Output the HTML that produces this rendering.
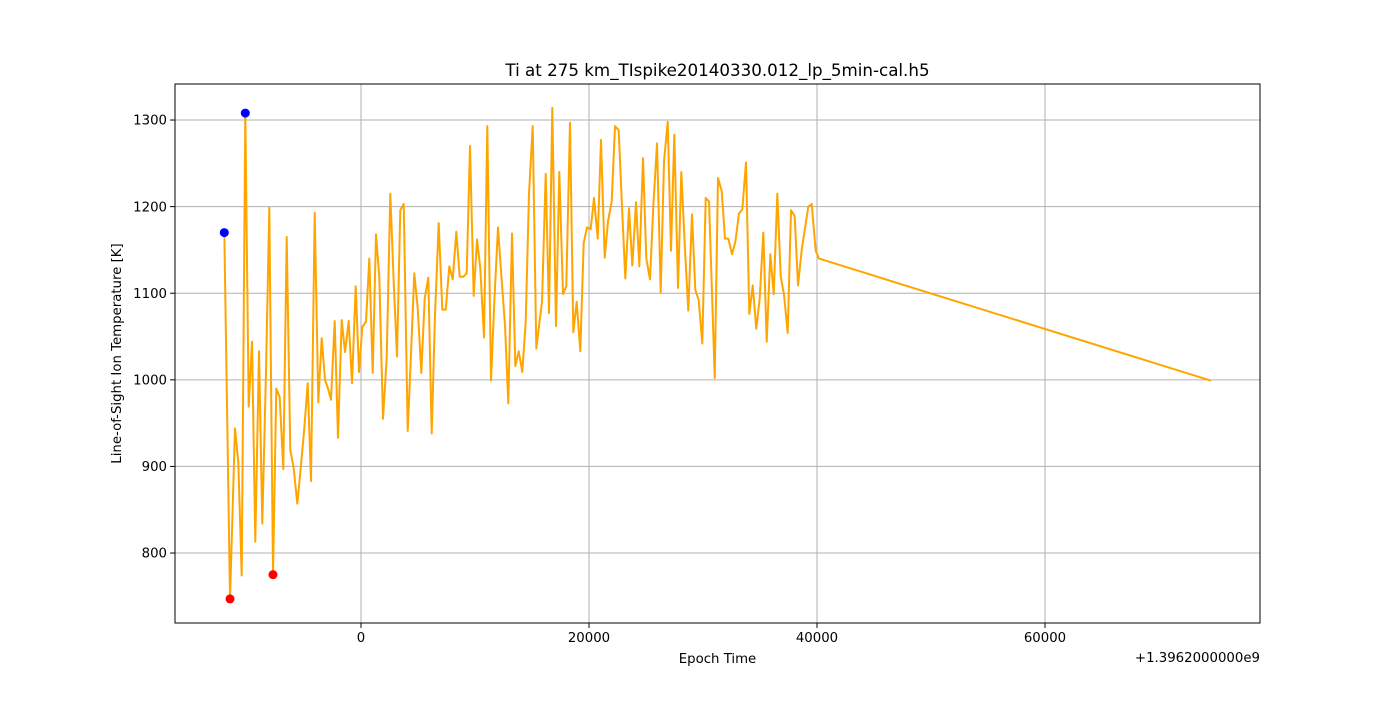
<!DOCTYPE html>
<html><head><meta charset="utf-8"><style>
html,body{margin:0;padding:0;background:#fff;}
svg text{font-family:"DejaVu Sans","Liberation Sans",sans-serif;fill:#000;}
</style></head><body>
<svg id="chart" width="1400" height="700" xmlns="http://www.w3.org/2000/svg"></svg>
<script>
const times=[-11990,-11490,-11053,-10763,-10465,-10149,-9851,-9561,-9272,-8947,-8658,-8333,-8044,-7719,-7430,-7132,-6816,-6518,-6202,-5904,-5588,-5290,-4974,-4675,-4386,-4061,-3746,-3447,-3158,-2895,-2632,-2307,-2018,-1693,-1404,-1079,-789,-465,-175,114,439,728,1026,1316,1605,1930,2254,2570,2868,3158,3447,3746,4097,4386,4675,4974,5290,5588,5904,6202,6491,6816,7132,7430,7746,8044,8360,8658,8974,9272,9561,9886,10176,10465,10790,11079,11404,11693,12018,12307,12632,12921,13246,13535,13833,14149,14447,14737,15061,15377,15641,15877,16202,16491,16781,17105,17395,17719,18009,18333,18623,18921,19237,19535,19825,20149,20439,20763,21053,21377,21667,21991,22281,22605,22895,23185,23509,23799,24123,24413,24737,25027,25351,25641,25965,26290,26579,26904,27193,27483,27807,28097,28421,28711,29035,29325,29623,29939,30237,30527,30790,31027,31316,31641,31930,32220,32544,32834,33158,33448,33772,34062,34360,34676,34974,35290,35588,35904,36202,36519,36816,37106,37430,37720,38044,38334,38659,38948,39238,39536,39886,40176,74562];
const temps=[1170,747,944,905,774,1308,969,1044,813,1033,834,1010,1199,775,990,980,897,1165,919,898,857,898,944,996,883,1193,974,1048,1000,990,977,1068,933,1069,1032,1068,996,1108,1009,1061,1067,1140,1008,1168,1119,955,1025,1215,1113,1027,1196,1203,941,1030,1123,1083,1008,1094,1118,938,1075,1181,1081,1081,1131,1116,1171,1119,1119,1123,1270,1097,1162,1129,1049,1293,999,1090,1176,1121,1063,973,1169,1016,1033,1009,1067,1215,1293,1036,1065,1090,1238,1077,1314,1062,1240,1099,1108,1297,1055,1090,1033,1158,1176,1174,1210,1163,1277,1141,1183,1206,1293,1288,1200,1117,1198,1132,1205,1131,1256,1140,1116,1200,1273,1101,1252,1298,1149,1283,1106,1240,1150,1080,1191,1104,1092,1042,1210,1206,1100,1002,1233,1218,1163,1163,1145,1159,1192,1197,1251,1076,1109,1059,1094,1170,1044,1145,1099,1215,1120,1098,1054,1196,1189,1109,1150,1175,1200,1203,1149,1140,999];
const maxIdx=[0,5];
const minIdx=[1,13];
const xTicks=[0,20000,40000,60000];
const xTickLabels=["0","20000","40000","60000"];
const yTicks=[800,900,1000,1100,1200,1300];
const yTickLabels=["800","900","1000","1100","1200","1300"];

const L=175,R=1260,T=84,B=623;
const xMin=-16316,xMax=78860,yMin=719.2,yMax=1341.6;
const sx=v=>L+(v-xMin)/(xMax-xMin)*(R-L);
const sy=v=>B-(v-yMin)/(yMax-yMin)*(B-T);
const svg=document.getElementById('chart');
const NS='http://www.w3.org/2000/svg';
function mk(tag,attrs,parent){const e=document.createElementNS(NS,tag);for(const k in attrs)e.setAttribute(k,attrs[k]);(parent||svg).appendChild(e);return e;}

const grid=mk('g',{});


xTicks.forEach((t,i)=>{
  const x=sx(t);
  const g=mk('line',{x1:x,x2:x,y1:T,y2:B,stroke:'#b0b0b0','stroke-width':1},grid);
  
  
  const tk=mk('line',{x1:x,x2:x,y1:B,y2:B+4.9,stroke:'#000','stroke-width':1});
  
  
  const tx=mk('text',{x:x,y:B+19,'text-anchor':'middle','font-size':13.3});
  tx.textContent=xTickLabels[i];
  
  
});
yTicks.forEach((t,i)=>{
  const y=sy(t);
  const g=mk('line',{x1:L,x2:R,y1:y,y2:y,stroke:'#b0b0b0','stroke-width':1},grid);
  
  
  const tk=mk('line',{x1:L-4.9,x2:L,y1:y,y2:y,stroke:'#000','stroke-width':1});
  
  
  const tx=mk('text',{x:L-8,y:y+4.7,'text-anchor':'end','font-size':13.3});
  tx.textContent=yTickLabels[i];
  
  
});

const pts=times.map((t,i)=>sx(t).toFixed(2)+','+sy(temps[i]).toFixed(2)).join(' ');
const line=mk('polyline',{points:pts,fill:'none',stroke:'#ffa500','stroke-width':2,'stroke-linejoin':'round'});



maxIdx.forEach(i=>{
  const c=mk('circle',{cx:sx(times[i]),cy:sy(temps[i]),r:4.5,fill:'#0000ff'});
  
  
});
minIdx.forEach(i=>{
  const c=mk('circle',{cx:sx(times[i]),cy:sy(temps[i]),r:4.5,fill:'#ff0000'});
  
  
});

const frame=mk('rect',{x:L,y:T,width:R-L,height:B-T,fill:'none',stroke:'#000','stroke-width':1});



const title=mk('text',{x:(L+R)/2,y:76,'text-anchor':'middle','font-size':16.7});
title.textContent='Ti at 275 km_TIspike20140330.012_lp_5min-cal.h5';



const xl=mk('text',{x:(L+R)/2,y:663,'text-anchor':'middle','font-size':13.3});
xl.textContent='Epoch Time';



const off=mk('text',{x:R,y:662,'text-anchor':'end','font-size':13.3});
off.textContent='+1.3962000000e9';



const yl=mk('text',{x:121,y:(T+B)/2,'text-anchor':'middle','font-size':13.3,transform:'rotate(-90 121 '+((T+B)/2)+')'});
yl.textContent='Line-of-Sight Ion Temperature [K]';


</script>
</body></html>
